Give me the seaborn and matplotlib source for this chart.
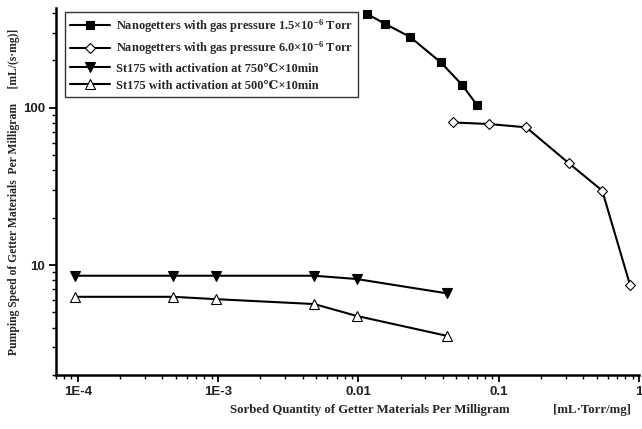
import numpy as np
import pandas as pd
import matplotlib
matplotlib.use("Agg")
import matplotlib.pyplot as plt
import seaborn as sns
from matplotlib.font_manager import FontProperties
from matplotlib.ticker import LogLocator, FixedLocator, FixedFormatter, NullFormatter

# ---- data ----
nano15_x = [0.0115, 0.0155, 0.0233, 0.0387, 0.0547, 0.070]
nano15_y = [395, 341, 282, 194, 140, 104]

nano60_x = [0.047, 0.0857, 0.157, 0.315, 0.547, 0.863]
nano60_y = [80.6, 78.7, 75.0, 44.5, 29.7, 7.47]

st750_x = [0.95e-4, 4.8e-4, 0.96e-3, 4.84e-3, 9.7e-3, 0.0426]
st750_y = [8.55, 8.55, 8.55, 8.55, 8.15, 6.61]

st500_x = [0.95e-4, 4.8e-4, 0.96e-3, 4.84e-3, 9.7e-3, 0.0426]
st500_y = [6.28, 6.28, 6.07, 5.65, 4.75, 3.55]

labels = [
    r"Nanogetters with gas pressure 1.5×10$^{\mathbf{-6}}$ Torr",
    r"Nanogetters with gas pressure 6.0×10$^{\mathbf{-6}}$ Torr",
    "St175 with activation at 750℃×10min",
    "St175 with activation at 500℃×10min",
]
xtick_vals = [1e-4, 1e-3, 1e-2, 1e-1, 1]
xtick_labels = ["1E-4", "1E-3", "0.01", "0.1", "1"]
ytick_vals = [10, 100]
ytick_labels = ["10", "100"]

sns.set_theme(style="white")
plt.rcParams['font.family'] = ['Liberation Serif', 'DejaVu Serif']
plt.rcParams['mathtext.fontset'] = 'custom'
plt.rcParams['mathtext.rm'] = 'Liberation Serif:bold'
plt.rcParams['mathtext.bf'] = 'Liberation Serif:bold'
plt.rcParams['mathtext.it'] = 'Liberation Serif:bold'

fig = plt.figure(figsize=(6.42, 4.29), dpi=100)
ax = fig.add_axes([56/642, 1-375/429, (639-56)/642, (375-8)/429])

series = [
    (nano15_x, nano15_y, 's', 'black', 5.5),
    (nano60_x, nano60_y, 'D', 'white', 5.5),
    (st750_x, st750_y, 'v', 'black', 7),
    (st500_x, st500_y, '^', 'white', 7),
]
handles = []
for (xs, ys, mk, fc, ms), lab in zip(series, labels):
    df = pd.DataFrame({"x": xs, "y": ys})
    sns.lineplot(data=df, x="x", y="y", ax=ax, sort=False, color="black",
                 linewidth=1.5, marker=mk, markersize=ms,
                 markerfacecolor=fc, markeredgecolor="black",
                 markeredgewidth=0.8, label=lab)
    handles.append(ax.lines[-1])

ax.set_xscale("log")
ax.set_yscale("log")
ax.set_xlim(7e-5, 1.0)
ax.set_ylim(2, 430)

for s in ["top", "right"]:
    ax.spines[s].set_visible(False)
for s in ["left", "bottom"]:
    ax.spines[s].set_linewidth(1.8)
    ax.spines[s].set_color("black")

ax.xaxis.set_major_locator(FixedLocator(xtick_vals))
ax.xaxis.set_major_formatter(FixedFormatter(xtick_labels))
ax.yaxis.set_major_locator(FixedLocator(ytick_vals))
ax.yaxis.set_major_formatter(FixedFormatter(ytick_labels))
ax.xaxis.set_minor_locator(LogLocator(base=10, subs=np.arange(2, 10), numticks=20))
ax.yaxis.set_minor_locator(LogLocator(base=10, subs=np.arange(2, 10), numticks=20))
ax.xaxis.set_minor_formatter(NullFormatter())
ax.yaxis.set_minor_formatter(NullFormatter())
ax.tick_params(which="major", direction="out", length=5, width=1.3, color="black",
               bottom=True, left=True, pad=3)
ax.tick_params(which="minor", direction="out", length=3, width=1.0, color="black",
               bottom=True, left=True)
for t in ax.get_xticklabels() + ax.get_yticklabels():
    t.set_family(["Liberation Sans", "DejaVu Sans"])
    t.set_fontweight("bold")
    t.set_fontsize(9.5)
    t.set_color("#222222")

ax.set_xlabel("")
ax.set_ylabel("")
fig.text(14/642, 1-192/429,
         "Pumping Speed of Getter Materials  Per Milligram     [mL/(s·mg)]",
         rotation=90, ha="center", va="center", fontsize=8.4, fontweight="bold")
fig.text(370/642, 1-410/429, "Sorbed Quantity of Getter Materials Per Milligram",
         ha="center", va="center", fontsize=9.2, fontweight="bold")
fig.text(592/642, 1-410/429, "[mL·Torr/mg]",
         ha="center", va="center", fontsize=9.2, fontweight="bold")

leg = ax.legend(handles=handles, labels=labels, loc="upper left",
                bbox_to_anchor=(9/583, 1-4/367),
                prop=FontProperties(family=["Liberation Serif", "DejaVu Serif"],
                                    weight="bold", size=8.9),
                frameon=True, fancybox=False, edgecolor="black",
                handlelength=3.2, handletextpad=0.5, labelspacing=0.42,
                borderpad=0.4, borderaxespad=0)
leg.get_frame().set_linewidth(1.0)

fig.savefig("out.png", dpi=100, facecolor="white")
